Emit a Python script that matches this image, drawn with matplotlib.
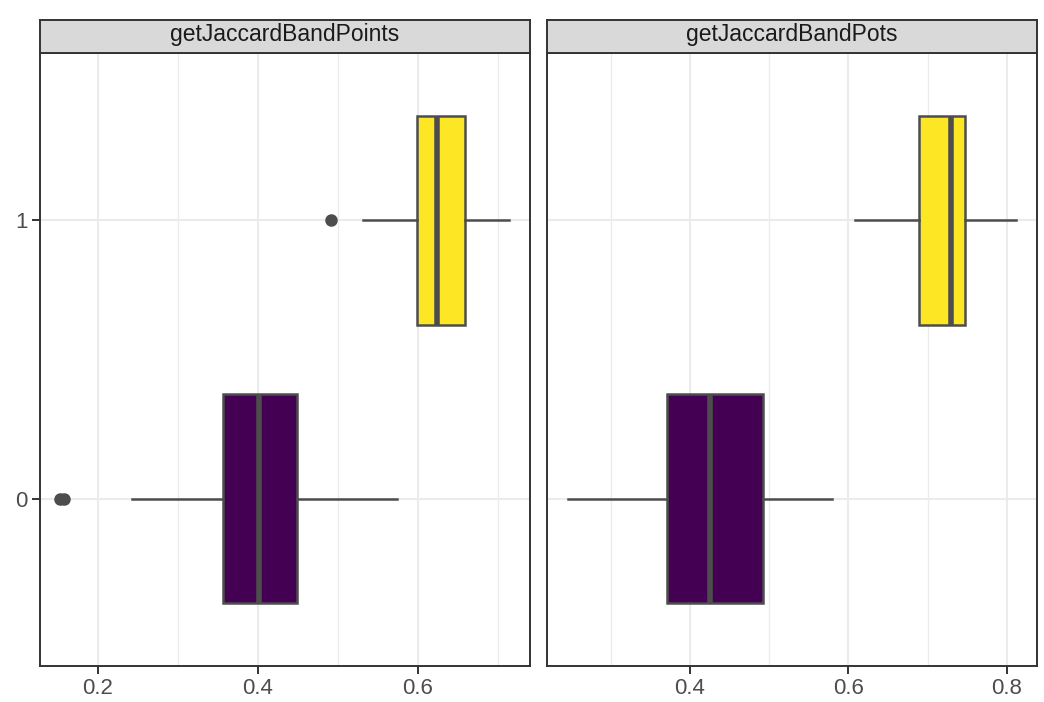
import matplotlib
matplotlib.use("Agg")
import matplotlib.pyplot as plt

plt.rcParams['font.family'] = ['Liberation Sans', 'DejaVu Sans']

# facet panels and groups
panels = ['getJaccardBandPoints', 'getJaccardBandPots']
groups = [0, 1]
fills = ['#440154', '#FDE725']

# five-number summaries per panel, per group (0, 1)
whislo = [[0.243, 0.531], [0.246, 0.608]]
q1 = [[0.356, 0.599], [0.371, 0.689]]
med = [[0.401, 0.624], [0.425, 0.729]]
q3 = [[0.449, 0.659], [0.492, 0.747]]
whishi = [[0.574, 0.714], [0.579, 0.811]]
fliers = [[[0.152, 0.158], [0.491]], [[], []]]

xlims = [(0.1275, 0.74), (0.2196, 0.838)]
xticks = [[0.2, 0.4, 0.6], [0.4, 0.6, 0.8]]
xminor = [[0.3, 0.5, 0.7], [0.3, 0.5, 0.7]]

edge = '#4D4D4D'
dark = '#333333'

fig = plt.figure(figsize=(10.44, 7.02), dpi=100)
W, H = 1044, 702
lefts = [40, 547]
pw = 490
top, bottom = 53, 666
strip_h = 33

for p, name in enumerate(panels):
    ax = fig.add_axes([lefts[p] / W, 1 - bottom / H, pw / W, (bottom - top) / H])
    stats = []
    for g in groups:
        stats.append(dict(whislo=whislo[p][g], q1=q1[p][g], med=med[p][g],
                          q3=q3[p][g], whishi=whishi[p][g], fliers=fliers[p][g]))
    bp = ax.bxp(stats, positions=groups, widths=0.75, vert=False, patch_artist=True,
                showcaps=False, zorder=3,
                boxprops=dict(edgecolor=edge, linewidth=1.8),
                medianprops=dict(color=edge, linewidth=4.0, solid_capstyle='butt'),
                whiskerprops=dict(color=edge, linewidth=1.8),
                flierprops=dict(marker='o', markerfacecolor=edge, markeredgecolor=edge,
                                markersize=8))
    for patch, c in zip(bp['boxes'], fills):
        patch.set_facecolor(c)

    ax.set_xlim(*xlims[p])
    ax.set_ylim(-0.6, 1.6)
    ax.set_xticks(xticks[p])
    ax.set_xticklabels([f'{v:.1f}' for v in xticks[p]])
    ax.set_xticks(xminor[p], minor=True)
    ax.set_yticks(groups)
    ax.set_yticklabels([str(g) for g in groups])
    if p == 1:
        ax.tick_params(axis='y', left=False, labelleft=False)
    ax.grid(True, which='major', color='#EBEBEB', linewidth=1.5, zorder=0)
    ax.grid(True, which='minor', axis='x', color='#EBEBEB', linewidth=0.9, zorder=0)
    ax.set_axisbelow(True)
    ax.tick_params(axis='both', which='major', length=5.5, width=1.4, color=dark,
                   labelcolor='#4D4D4D', labelsize=16, pad=3.5)
    ax.tick_params(axis='x', which='minor', length=0)
    for s in ax.spines.values():
        s.set_color(dark)
        s.set_linewidth(1.4)

    # strip label above each panel
    sax = fig.add_axes([lefts[p] / W, 1 - top / H, pw / W, strip_h / H])
    sax.set_xticks([])
    sax.set_yticks([])
    sax.set_facecolor('#D9D9D9')
    for s in sax.spines.values():
        s.set_color(dark)
        s.set_linewidth(1.4)
    sax.text(0.5, 0.55, name, ha='center', va='center', fontsize=16.5, color='#1A1A1A',
             transform=sax.transAxes)

fig.savefig('out.png', dpi=100)
